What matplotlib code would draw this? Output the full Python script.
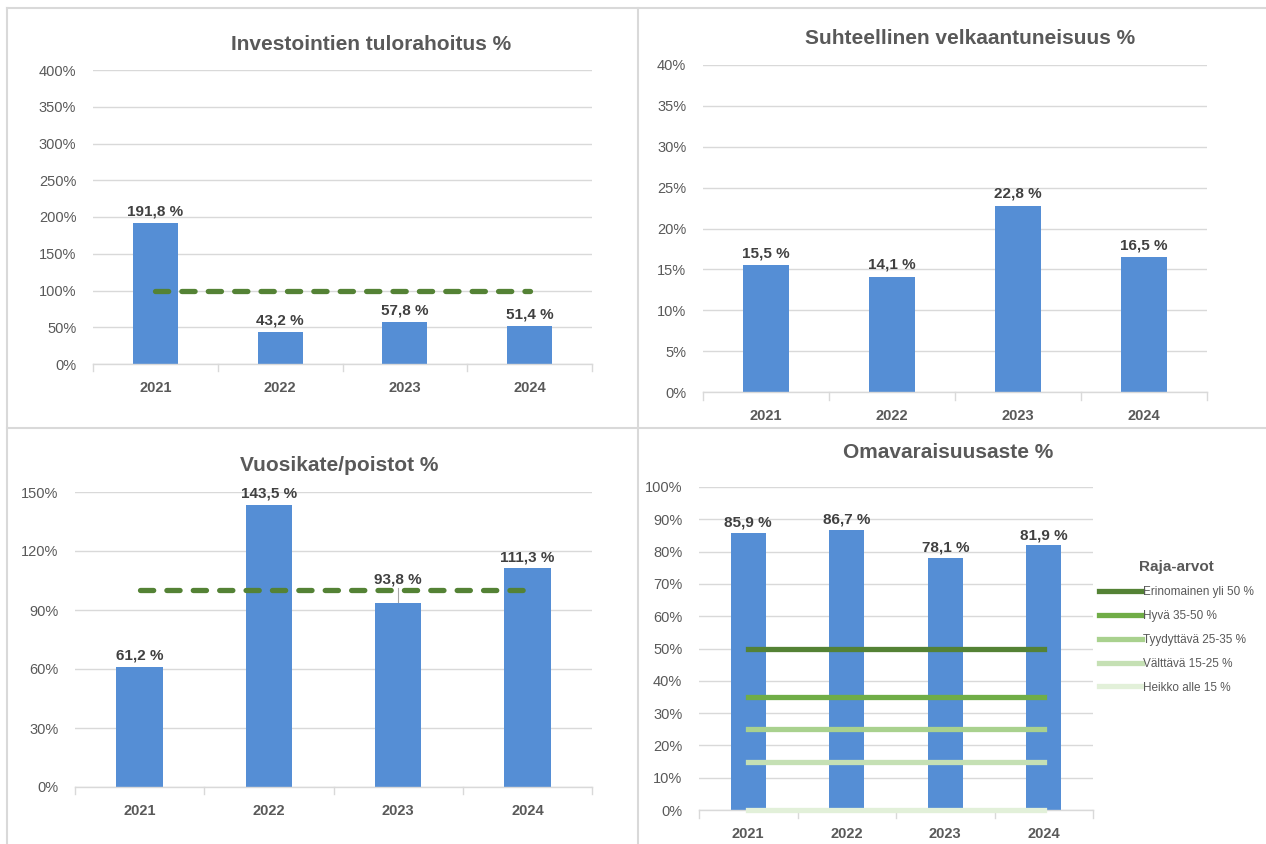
import numpy as np
import matplotlib.pyplot as plt
from matplotlib.lines import Line2D

plt.rcParams['font.family'] = ['Liberation Sans', 'DejaVu Sans']

years = ['2021', '2022', '2023', '2024']

tulorahoitus = [191.8, 43.2, 57.8, 51.4]
tulorahoitus_raja = 100

velkaantuneisuus = [15.5, 14.1, 22.8, 16.5]

vuosikate_poistot = [61.2, 143.5, 93.8, 111.3]
vuosikate_raja = 100

omavaraisuus = [85.9, 86.7, 78.1, 81.9]
raja_nimet = ['Erinomainen yli 50 %', 'Hyvä 35-50 %', 'Tyydyttävä 25-35 %',
              'Välttävä 15-25 %', 'Heikko alle 15 %']
raja_arvot = [50, 35, 25, 15, 0]
raja_varit = ['#548235', '#70AD47', '#A9D18E', '#C5E0B4', '#E2F0D9']

W, H = 1266, 844
BAR = '#558ED5'
TXT = '#595959'
LBL = '#404040'
GRID = '#D9D9D9'

fig = plt.figure(figsize=(W / 100, H / 100), dpi=100)


def px_axes(x0, x1, ytop, ybot):
    return fig.add_axes([x0 / W, 1 - ybot / H, (x1 - x0) / W, (ybot - ytop) / H])


def fmt(v):
    return f'{v:.1f}'.replace('.', ',') + ' %'


def title(text, xc, yc):
    fig.text(xc / W, 1 - yc / H, text, ha='center', va='center', fontsize=15,
             fontweight='bold', color=TXT)


def base(ax, values, ymax, step):
    x = np.arange(len(values))
    ax.bar(x, values, width=0.36, color=BAR, zorder=2)
    ax.set_xlim(-0.5, len(values) - 0.5)
    ax.set_ylim(0, ymax)
    ax.set_yticks(np.arange(0, ymax + step / 2, step))
    ax.set_yticklabels([f'{int(t)}%' for t in ax.get_yticks()])
    ax.yaxis.grid(True, color=GRID, lw=1, zorder=0)
    ax.set_axisbelow(True)
    for s in ['top', 'right', 'left']:
        ax.spines[s].set_visible(False)
    ax.spines['bottom'].set_color(GRID)
    ax.spines['bottom'].set_linewidth(1)
    ax.tick_params(axis='y', length=0, labelsize=10.5, labelcolor=TXT, pad=12)
    ax.set_xticks(x)
    ax.set_xticklabels(years, fontsize=10.5, fontweight='bold', color=TXT)
    ax.tick_params(axis='x', length=0, pad=12)
    # category boundary ticks
    for b in np.arange(-0.5, len(values), 1.0):
        ax.plot([b, b], [0, -ymax * 0.025], color=GRID, lw=1, clip_on=False)
    return x


# top-left
ax1 = px_axes(93, 592, 70, 364)
x = base(ax1, tulorahoitus, 400, 50)
title('Investointien tulorahoitus %', 371, 45)
ax1.plot([x[0], x[-1]], [tulorahoitus_raja] * 2, color='#548235', lw=3.8,
         ls=(0, (2.5, 2.5)), dash_capstyle='round', zorder=3)
for xi, v in zip(x, tulorahoitus):
    ax1.text(xi, v + 6, fmt(v), ha='center', va='bottom', fontsize=11,
             fontweight='bold', color=LBL)

# top-right
ax2 = px_axes(703, 1207, 65, 392)
x = base(ax2, velkaantuneisuus, 40, 5)
title('Suhteellinen velkaantuneisuus %', 970, 38)
for xi, v in zip(x, velkaantuneisuus):
    ax2.text(xi, v + 0.6, fmt(v), ha='center', va='bottom', fontsize=11,
             fontweight='bold', color=LBL)

# bottom-left
ax3 = px_axes(75, 592, 492, 787)
x = base(ax3, vuosikate_poistot, 150, 30)
title('Vuosikate/poistot %', 339, 465)
ax3.plot([x[0], x[-1]], [vuosikate_raja] * 2, color='#548235', lw=3.8,
         ls=(0, (2.5, 2.5)), dash_capstyle='round', zorder=3)
offs = [2, 2, 8, 2]
for xi, v, o in zip(x, vuosikate_poistot, offs):
    ax3.text(xi, v + o, fmt(v), ha='center', va='bottom', fontsize=11,
             fontweight='bold', color=LBL)
ax3.plot([x[2], x[2]], [vuosikate_poistot[2], vuosikate_poistot[2] + 7.5],
         color='#A6A6A6', lw=0.8, zorder=1)

# bottom-right
ax4 = px_axes(699, 1093, 487, 810)
x = base(ax4, omavaraisuus, 100, 10)
title('Omavaraisuusaste %', 948, 453)
handles = []
for nimi, r, c in zip(raja_nimet, raja_arvot, raja_varit):
    ax4.plot([x[0], x[-1]], [r, r], color=c, lw=3.8, zorder=3, clip_on=False)
    handles.append(Line2D([], [], color=c, lw=3.8, label=nimi))
for xi, v in zip(x, omavaraisuus):
    ax4.text(xi, v + 1, fmt(v), ha='center', va='bottom', fontsize=11,
             fontweight='bold', color=LBL)
leg = ax4.legend(handles=handles, title='Raja-arvot', loc='upper left',
                 bbox_to_anchor=(0.995, 0.80), frameon=False, fontsize=8.5,
                 title_fontsize=11, handlelength=3.6, handletextpad=0.1,
                 labelspacing=1.0, labelcolor=TXT, borderpad=0.2)
leg.get_title().set_color(TXT)
leg.get_title().set_fontweight('bold')
leg._legend_box.align = 'center'
leg._legend_box.sep = 9

# panel borders
sep = dict(color='#D9D9D9', lw=1.5, transform=fig.transFigure)
fig.add_artist(Line2D([637.5 / W, 637.5 / W], [0, 1 - 7.5 / H], **sep))
fig.add_artist(Line2D([6.5 / W, 1], [1 - 427.5 / H, 1 - 427.5 / H], **sep))
fig.add_artist(Line2D([6.5 / W, 6.5 / W], [0, 1 - 7.5 / H], **sep))
fig.add_artist(Line2D([6.5 / W, 1], [1 - 7.5 / H, 1 - 7.5 / H], **sep))

fig.savefig('out.png', dpi=100, facecolor='white')
